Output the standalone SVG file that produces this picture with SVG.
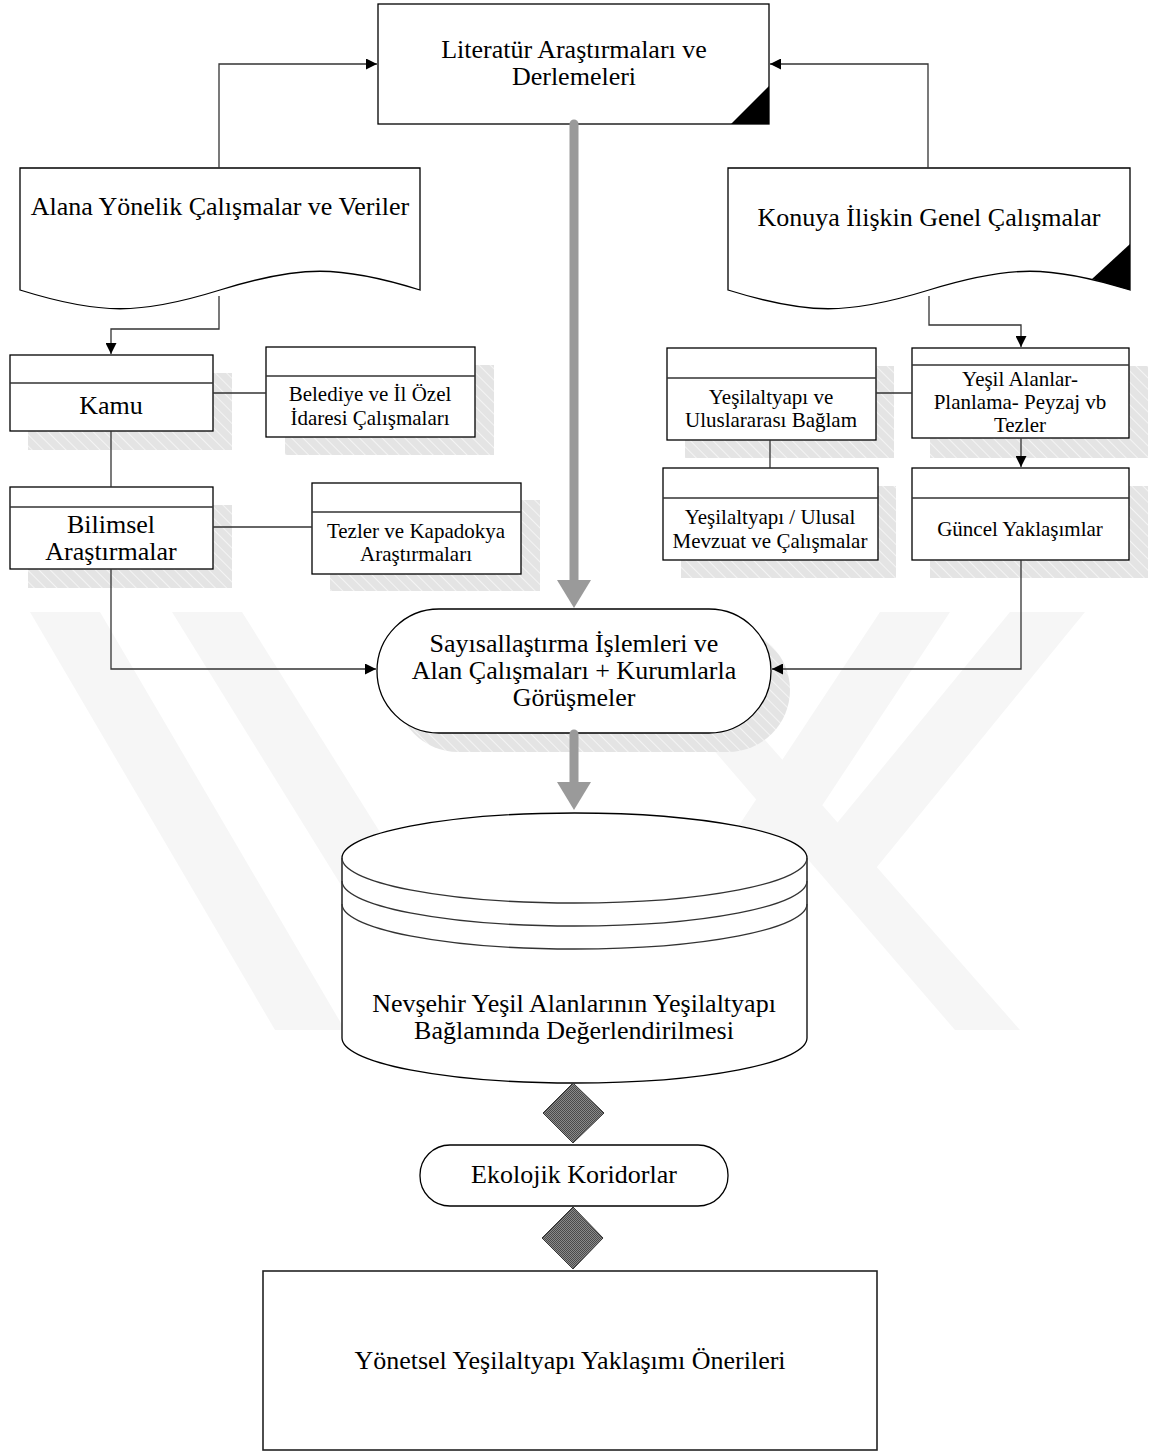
<svg xmlns="http://www.w3.org/2000/svg" width="1150" height="1452" viewBox="0 0 1150 1452">
<defs>
<pattern id="hatch" width="8" height="8" patternUnits="userSpaceOnUse" patternTransform="rotate(-45)">
<rect width="8" height="8" fill="#e4e4e4"/>
<line x1="0" y1="0" x2="0" y2="8" stroke="#ffffff" stroke-width="1.2"/>
</pattern>
<pattern id="checker" width="2" height="2" patternUnits="userSpaceOnUse">
<rect width="2" height="2" fill="#8a8a8a"/>
<rect width="1" height="1" fill="#4a4a4a"/>
<rect x="1" y="1" width="1" height="1" fill="#4a4a4a"/>
</pattern>
<marker id="arr" viewBox="0 0 10 10" refX="10" refY="5" markerWidth="11" markerHeight="11" markerUnits="userSpaceOnUse" orient="auto">
<path d="M0,0 L10,5 L0,10 Z" fill="#000"/>
</marker>
</defs>
<style>
text{font-family:"Liberation Serif","Times New Roman",serif;fill:#000;text-anchor:middle}
.big{font-size:26px}
.sm{font-size:21px}
.box{fill:#fff;stroke:#000;stroke-width:1.3}
.sh{fill:url(#hatch)}
.con{fill:none;stroke:#333;stroke-width:1.3}
.gray{fill:none;stroke:#9a9a9a;stroke-width:9;stroke-linecap:round}
.ghead{fill:#9a9a9a}
.wm{fill:#f6f6f6}
.dia{fill:url(#checker);stroke:#333;stroke-width:1}
</style>
<rect width="1150" height="1452" fill="#fff"/>
<g id="watermark">
<polygon class="wm" points="30,612 100,612 345,1030 275,1030"/>
<polygon class="wm" points="172,612 242,612 410,880 375,940"/>
<polygon class="wm" points="880,612 950,612 720,960 650,960"/>
<polygon class="wm" points="1010,612 1085,612 850,900 815,850"/>
<polygon class="wm" points="705,740 765,740 1020,1030 955,1030"/>
</g>
<g id="n-literatur">
<rect class="box" x="378" y="4" width="391" height="120"/>
<polygon points="769,86 769,124 731,124" fill="#000"/>
<text class="big" x="574" y="58">Literatür Araştırmaları ve</text>
<text class="big" x="574" y="85">Derlemeleri</text>
</g>
<g id="n-alana">
<path class="box" d="M20,168 H420 V290 C340,265 300,265 220,290 C140,315 100,315 20,290 Z"/>
<text class="big" x="220" y="215">Alana Yönelik Çalışmalar ve Veriler</text>
</g>
<g id="n-konuya">
<path class="box" d="M728,168 H1130 V290 C1050,265 1010,265 929,290 C848,315 808,315 728,290 Z"/>
<polygon points="1130,244 1130,290 1092,279" fill="#000"/>
<text class="big" x="929" y="226">Konuya İlişkin Genel Çalışmalar</text>
</g>
<g id="n-kamu">
<rect class="sh" x="28" y="373" width="204" height="77"/>
<rect class="box" x="10" y="355" width="203" height="76"/>
<line class="con" x1="10" y1="383" x2="213" y2="383"/>
<text class="big" x="111" y="414">Kamu</text>
</g>
<g id="n-belediye">
<rect class="sh" x="285" y="365" width="209" height="90"/>
<rect class="box" x="266" y="347" width="209" height="90"/>
<line class="con" x1="266" y1="376" x2="475" y2="376"/>
<text class="sm" x="370" y="401">Belediye ve İl Özel</text>
<text class="sm" x="370" y="425">İdaresi Çalışmaları</text>
</g>
<g id="n-bilimsel">
<rect class="sh" x="28" y="505" width="204" height="83"/>
<rect class="box" x="10" y="487" width="203" height="82"/>
<line class="con" x1="10" y1="507" x2="213" y2="507"/>
<text class="big" x="111" y="533">Bilimsel</text>
<text class="big" x="111" y="560">Araştırmalar</text>
</g>
<g id="n-tezler">
<rect class="sh" x="330" y="500" width="210" height="91"/>
<rect class="box" x="312" y="483" width="209" height="91"/>
<line class="con" x1="312" y1="512" x2="521" y2="512"/>
<text class="sm" x="416" y="538">Tezler ve Kapadokya</text>
<text class="sm" x="416" y="561">Araştırmaları</text>
</g>
<g id="n-uluslararasi">
<rect class="sh" x="685" y="366" width="209" height="92"/>
<rect class="box" x="667" y="348" width="209" height="92"/>
<line class="con" x1="667" y1="378" x2="876" y2="378"/>
<text class="sm" x="771" y="404">Yeşilaltyapı ve</text>
<text class="sm" x="771" y="427">Uluslararası Bağlam</text>
</g>
<g id="n-yesilalanlar">
<rect class="sh" x="930" y="366" width="218" height="92"/>
<rect class="box" x="912" y="348" width="217" height="90"/>
<line class="con" x1="912" y1="365" x2="1129" y2="365"/>
<text class="sm" x="1020" y="386">Yeşil Alanlar-</text>
<text class="sm" x="1020" y="409">Planlama- Peyzaj vb</text>
<text class="sm" x="1020" y="432">Tezler</text>
</g>
<g id="n-ulusal">
<rect class="sh" x="681" y="486" width="215" height="92"/>
<rect class="box" x="663" y="468" width="215" height="92"/>
<line class="con" x1="663" y1="498" x2="878" y2="498"/>
<text class="sm" x="770" y="524">Yeşilaltyapı / Ulusal</text>
<text class="sm" x="770" y="548">Mevzuat ve Çalışmalar</text>
</g>
<g id="n-guncel">
<rect class="sh" x="930" y="486" width="218" height="92"/>
<rect class="box" x="912" y="468" width="217" height="92"/>
<line class="con" x1="912" y1="498" x2="1129" y2="498"/>
<text class="sm" x="1020" y="536">Güncel Yaklaşımlar</text>
</g>
<g id="n-sayisal">
<rect class="sh" x="396" y="628" width="394" height="124" rx="62" ry="62"/>
<rect class="box" x="377" y="609" width="394" height="124" rx="62" ry="62"/>
<text class="big" x="574" y="652">Sayısallaştırma İşlemleri ve</text>
<text class="big" x="574" y="679">Alan Çalışmaları + Kurumlarla</text>
<text class="big" x="574" y="706">Görüşmeler</text>
</g>
<g id="n-nevsehir">
<path class="box" d="M342,858 A232.5,45 0 0 1 807,858 V1038 A232.5,45 0 0 1 342,1038 Z"/>
<path class="con" d="M342,858 A232.5,45 0 0 0 807,858"/>
<path class="con" d="M342,881 A232.5,45 0 0 0 807,881"/>
<path class="con" d="M342,904 A232.5,45 0 0 0 807,904"/>
<text class="big" x="574" y="1012">Nevşehir Yeşil Alanlarının Yeşilaltyapı</text>
<text class="big" x="574" y="1039">Bağlamında Değerlendirilmesi</text>
</g>
<g id="d1">
<polygon class="dia" points="573,1083 604,1113 573,1143 543,1113"/>
</g>
<g id="n-ekolojik">
<rect class="box" x="420" y="1145" width="308" height="61" rx="30" ry="30"/>
<text class="big" x="574" y="1183">Ekolojik Koridorlar</text>
</g>
<g id="d2">
<polygon class="dia" points="573,1207 603,1238 573,1269 542,1238"/>
</g>
<g id="n-yonetsel">
<rect class="box" x="263" y="1271" width="614" height="179" style="stroke:#222;stroke-width:1.6"/>
<text class="big" x="570" y="1369">Yönetsel Yeşilaltyapı Yaklaşımı Önerileri</text>
</g>
<g id="connectors">
<polyline class="con" points="219,168 219,64 377,64" marker-end="url(#arr)"/>
<polyline class="con" points="928,168 928,64 770,64" marker-end="url(#arr)"/>
<polyline class="con" points="219,296 219,329 111,329 111,354" marker-end="url(#arr)"/>
<polyline class="con" points="929,296 929,325 1021,325 1021,347" marker-end="url(#arr)"/>
<line class="con" x1="213" y1="393" x2="266" y2="393"/>
<line class="con" x1="111" y1="431" x2="111" y2="487"/>
<line class="con" x1="213" y1="527" x2="312" y2="527"/>
<polyline class="con" points="111,569 111,669 376,669" marker-end="url(#arr)"/>
<line class="con" x1="876" y1="393" x2="912" y2="393"/>
<line class="con" x1="770" y1="440" x2="770" y2="468"/>
<line class="con" x1="1021" y1="438" x2="1021" y2="467" marker-end="url(#arr)"/>
<polyline class="con" points="1021,560 1021,669 772,669" marker-end="url(#arr)"/>
<line class="gray" x1="574" y1="124" x2="574" y2="582"/>
<polygon class="ghead" points="557,580 591,580 574,608"/>
<line class="gray" x1="574" y1="734" x2="574" y2="784"/>
<polygon class="ghead" points="557,782 591,782 574,810"/>
</g>
</svg>
